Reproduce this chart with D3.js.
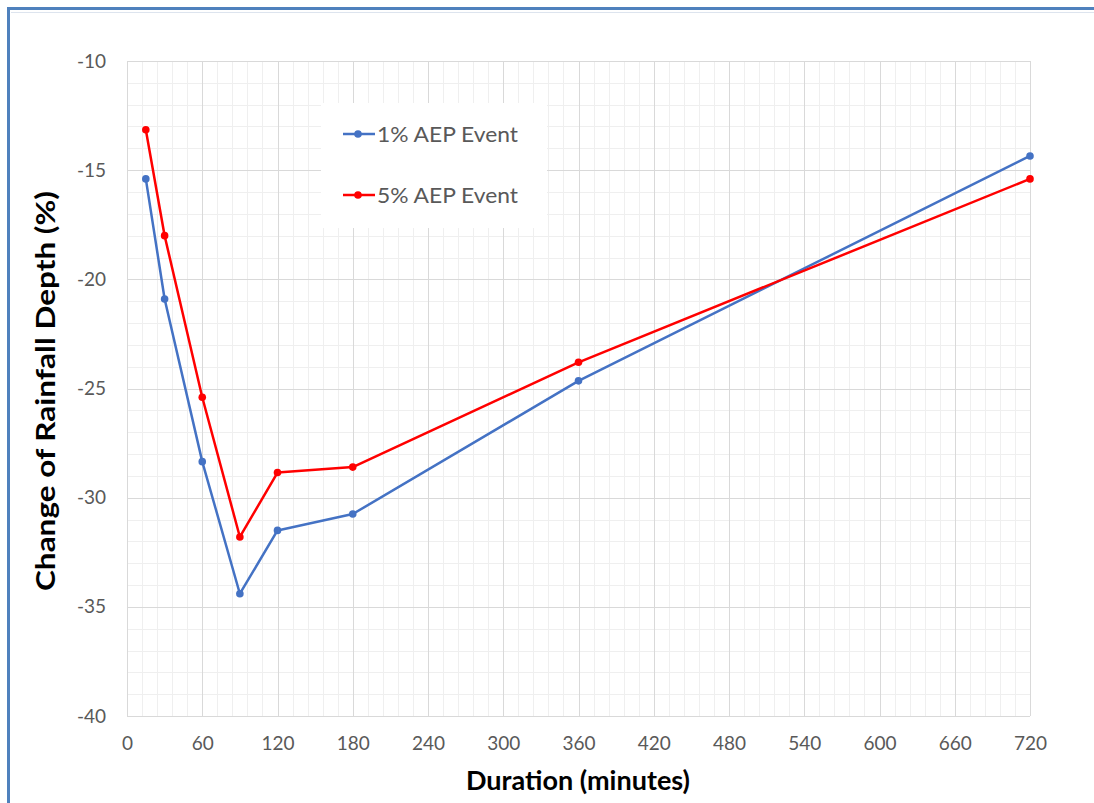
<!DOCTYPE html>
<html><head><meta charset="utf-8">
<script src="https://cdn.jsdelivr.net/npm/d3@7"></script>
<style>body{margin:0;background:#fff;}svg{display:block;font-family:Lato,"Liberation Sans",sans-serif;}</style>
</head><body><svg id="c" width="1094" height="803"></svg>
<script>
const durations = [15, 30, 60, 90, 120, 180, 360, 720];
const aep1 = [-15.4, -20.9, -28.35, -34.4, -31.5, -30.75, -24.65, -14.35];
const aep5 = [-13.15, -18.0, -25.4, -31.8, -28.85, -28.6, -23.8, -15.4];
const seriesNames = ["1% AEP Event", "5% AEP Event"];
const seriesColors = ["#4472c4", "#ff0000"];
const xTicks = [0,60,120,180,240,300,360,420,480,540,600,660,720];
const yTicks = [-10,-15,-20,-25,-30,-35,-40];

const svg = d3.select("#c");
// frame
svg.append("rect").attr("x",8.5).attr("y",8.5).attr("width",1100).attr("height",820).attr("fill","none").attr("stroke","#4f81bd").attr("stroke-width",3);
svg.append("line").attr("x1",11).attr("x2",1094).attr("y1",12.5).attr("y2",12.5).attr("stroke","#dde4ee").attr("stroke-width",1);

const x = d3.scaleLinear().domain([0,720]).range([127,1030]);
const y = d3.scaleLinear().domain([-40,-10]).range([716,61]);

const g = svg.append("g");
// minor grid
g.selectAll(".mx").data(d3.range(0,721,12)).join("line")
 .attr("x1",d=>Math.round(x(d))+0.5).attr("x2",d=>Math.round(x(d))+0.5).attr("y1",y(-10)).attr("y2",y(-40))
 .attr("stroke","#efefef").attr("stroke-width",1);
g.selectAll(".my").data(d3.range(-40,-9,1)).join("line")
 .attr("y1",d=>Math.round(y(d))+0.5).attr("y2",d=>Math.round(y(d))+0.5).attr("x1",x(0)).attr("x2",x(720))
 .attr("stroke","#efefef").attr("stroke-width",1);
// major grid
g.selectAll(".Mx").data(xTicks).join("line")
 .attr("x1",d=>Math.round(x(d))+0.5).attr("x2",d=>Math.round(x(d))+0.5).attr("y1",y(-10)).attr("y2",y(-40))
 .attr("stroke","#d9d9d9").attr("stroke-width",1);
g.selectAll(".My").data(yTicks).join("line")
 .attr("y1",d=>Math.round(y(d))+0.5).attr("y2",d=>Math.round(y(d))+0.5).attr("x1",x(0)).attr("x2",x(720))
 .attr("stroke","#d9d9d9").attr("stroke-width",1);

// axes labels
const fmt = d => String(d);
const xa = svg.append("g").attr("transform",`translate(0,${y(-40)})`)
 .call(d3.axisBottom(x).tickValues(xTicks).tickFormat(fmt).tickSize(0).tickPadding(21));
xa.select(".domain").remove();
xa.selectAll("text").attr("fill","#595959").style("font-size","19px").style("font-family","Lato,'Liberation Sans',sans-serif");
const ya = svg.append("g").attr("transform",`translate(${x(0)},0)`)
 .call(d3.axisLeft(y).tickValues(yTicks).tickFormat(fmt).tickSize(0).tickPadding(21));
ya.select(".domain").remove();
ya.selectAll("text").attr("fill","#595959").style("font-size","19px").style("font-family","Lato,'Liberation Sans',sans-serif");

// legend box
svg.append("rect").attr("x",321).attr("y",103).attr("width",226).attr("height",125).attr("fill","#fff");

const series = [aep1, aep5];
const line = d3.line().x(d=>x(d[0])).y(d=>y(d[1]));
series.forEach((vals,i)=>{
  const pts = durations.map((d,j)=>[d,vals[j]]);
  svg.append("path").datum(pts).attr("d",line).attr("fill","none").attr("stroke",seriesColors[i]).attr("stroke-width",2.5).attr("stroke-linejoin","round");
  svg.selectAll(null).data(pts).join("circle").attr("cx",d=>x(d[0])).attr("cy",d=>y(d[1])).attr("r",3.8).attr("fill",seriesColors[i]);
});

// legend
const ly = [134, 195];
seriesNames.forEach((n,i)=>{
  svg.append("line").attr("x1",343).attr("x2",375).attr("y1",ly[i]).attr("y2",ly[i]).attr("stroke",seriesColors[i]).attr("stroke-width",2.5);
  svg.append("circle").attr("cx",358).attr("cy",ly[i]).attr("r",3.8).attr("fill",seriesColors[i]);
  svg.append("text").attr("x",377).attr("y",ly[i]).attr("dy","0.35em").attr("fill","#595959").style("font-size","22px")
    .attr("textLength",141).attr("lengthAdjust","spacingAndGlyphs").text(n);
});

// titles
svg.append("text").attr("x",578).attr("y",790).attr("text-anchor","middle").attr("fill","#000").style("font-size","26px").style("font-weight","bold")
  .attr("textLength",224).attr("lengthAdjust","spacingAndGlyphs").text("Duration (minutes)");
svg.append("text").attr("transform",`translate(55,391) rotate(-90)`).attr("text-anchor","middle").attr("fill","#000").style("font-size","26px").style("font-weight","bold")
  .attr("textLength",400).attr("lengthAdjust","spacingAndGlyphs").text("Change of Rainfall Depth (%)");
</script></body></html>
